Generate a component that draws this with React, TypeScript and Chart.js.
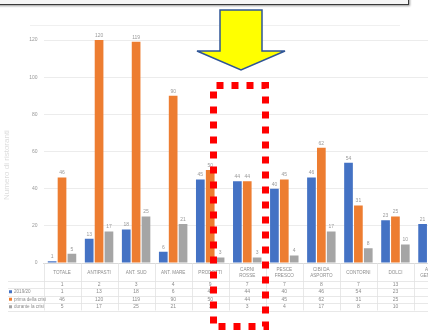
import React, { useEffect, useRef } from "react";
import { Chart, registerables } from "chart.js";

Chart.register(...registerables);

const categories: string[][] = [
  ["TOTALE"],
  ["ANTIPASTI"],
  ["ANT. SUD"],
  ["ANT. MARE"],
  ["PRODOTTI"],
  ["CARNI", "ROSSE"],
  ["PESCE", "FRESCO"],
  ["CIBI DA", "ASPORTO"],
  ["CONTORNI"],
  ["DOLCI"],
  ["ALTRO", "GENERICO"],
];
const seriesNames = ["2019/20", "prima della crisi", "durante la crisi"];
const countRow = [1, 2, 3, 4, 9, 7, 7, 8, 7, 13, 5];
const blueValues = [1, 13, 18, 6, 45, 44, 40, 46, 54, 23, 21];
const orangeValues = [46, 120, 119, 90, 50, 44, 45, 62, 31, 25, 45];
const greyValues = [5, 17, 25, 21, 3, 3, 4, 17, 8, 10, 6];
const yMax = 120;
const yStep = 20;
const colors = ["#4472C4", "#ED7D31", "#A5A5A5"];
const yTitle = "Numero di ristoranti";

const FONT = "'Liberation Sans', Arial, sans-serif";

const labelsPlugin = {
  id: "barLabels",
  afterDatasetsDraw(chart: any) {
    const ctx = chart.ctx;
    ctx.save();
    ctx.font = `5px ${FONT}`;
    ctx.fillStyle = "#9a9a9a";
    ctx.textAlign = "center";
    ctx.textBaseline = "bottom";
    chart.data.datasets.forEach((ds: any, di: number) => {
      const meta = chart.getDatasetMeta(di);
      meta.data.forEach((bar: any, i: number) => {
        ctx.fillText(String(ds.data[i]), bar.x, bar.y - 2);
      });
    });
    ctx.restore();
  },
};

const tablePlugin = {
  id: "dataTable",
  afterDraw(chart: any) {
    const ctx = chart.ctx;
    const xs = chart.scales.x;
    const ca = chart.chartArea;
    const n = categories.length;
    const half = (xs.getPixelForValue(1) - xs.getPixelForValue(0)) / 2;
    const top = ca.bottom;
    const headerBottom = top + 17.5;
    const rowH = 7.5;
    const rows = [countRow, blueValues, orangeValues, greyValues];
    const bottom = headerBottom + rowH * rows.length;
    ctx.save();
    ctx.strokeStyle = "#e2e2e2";
    ctx.lineWidth = 0.8;
    for (let i = 0; i <= n; i++) {
      const x = Math.round(xs.getPixelForValue(i) - half) + 0.5;
      ctx.beginPath();
      ctx.moveTo(x, top);
      ctx.lineTo(x, bottom);
      ctx.stroke();
    }
    for (let r = 0; r <= rows.length; r++) {
      const y = Math.round(headerBottom + r * rowH) + 0.5;
      ctx.beginPath();
      ctx.moveTo(8, y);
      ctx.lineTo(chart.width, y);
      ctx.stroke();
    }
    ctx.textAlign = "center";
    ctx.textBaseline = "middle";
    ctx.fillStyle = "#8c8c8c";
    ctx.font = `4.6px ${FONT}`;
    categories.forEach((lines, i) => {
      const cx = xs.getPixelForValue(i);
      const cy = (top + headerBottom) / 2 + 1;
      lines.forEach((t, k) => {
        const off = (k - (lines.length - 1) / 2) * 5.5;
        ctx.fillText(t, cx, cy + off);
      });
    });
    ctx.font = `5px ${FONT}`;
    rows.forEach((row, r) => {
      const cy = headerBottom + r * rowH + rowH / 2;
      row.forEach((v, i) => {
        ctx.fillText(String(v), xs.getPixelForValue(i), cy);
      });
    });
    ctx.textAlign = "left";
    ctx.font = `4.6px ${FONT}`;
    seriesNames.forEach((name, s) => {
      const cy = headerBottom + (s + 1) * rowH + rowH / 2;
      ctx.fillStyle = colors[s];
      ctx.fillRect(9, cy - 1.5, 3, 3);
      ctx.fillStyle = "#8c8c8c";
      ctx.fillText(name, 14, cy);
    });
    ctx.restore();
  },
};

export default function App() {
  const ref = useRef<HTMLCanvasElement>(null);
  useEffect(() => {
    if (!ref.current) return;
    const chart = new Chart(ref.current, {
      type: "bar",
      data: {
        labels: categories.map((c) => c.join(" ")),
        datasets: seriesNames.map((name, s) => ({
          label: name,
          data: [blueValues, orangeValues, greyValues][s],
          backgroundColor: colors[s],
          categoryPercentage: 0.8,
          barPercentage: 0.88,
        })),
      },
      options: {
        responsive: false,
        animation: false,
        devicePixelRatio: 1,
        layout: { padding: { top: 40, left: 0, right: 0, bottom: 0 } },
        plugins: { legend: { display: false }, tooltip: { enabled: false } },
        scales: {
          x: {
            grid: { display: false },
            border: { display: true, color: "#d9d9d9" },
            ticks: { display: false },
            afterFit: (s: any) => {
              s.height = 67;
            },
          },
          y: {
            min: 0,
            max: yMax,
            ticks: {
              stepSize: yStep,
              font: { size: 5, family: FONT },
              color: "#999",
              padding: 6,
            },
            grid: { color: "#ececec", drawTicks: false },
            border: { display: false },
            afterFit: (s: any) => {
              s.width = 43.5;
            },
          },
        },
      },
      plugins: [labelsPlugin, tablePlugin],
    } as any);
    return () => chart.destroy();
  }, []);

  return (
    <div
      style={{
        position: "fixed",
        left: 0,
        top: 0,
        width: 428,
        height: 330,
        overflow: "hidden",
        background: "#fff",
        fontFamily: FONT,
      }}
    >
      <canvas
        ref={ref}
        width={451}
        height={330}
        style={{ position: "absolute", left: 0, top: 0, width: 451, height: 330, filter: "blur(0.4px)" }}
      />
      <div
        style={{
          position: "absolute",
          left: -4,
          top: -30,
          width: 411,
          height: 33,
          border: "1.5px solid #3a3a3a",
          background: "#f6f6f6",
          boxShadow: "1px 1px 2px #999",
        }}
      />
      <div
        style={{
          position: "absolute",
          left: 6,
          top: 165,
          transform: "translate(-50%, -50%) rotate(-90deg)",
          fontSize: 8,
          color: "#dcdcdc",
          whiteSpace: "nowrap",
        }}
      >
        {yTitle}
      </div>
      <svg
        width={428}
        height={330}
        style={{ position: "absolute", left: 0, top: 0 }}
      >
        <line x1={30} y1={25.5} x2={400} y2={25.5} stroke="#f0f0f0" strokeWidth={1} />
        <polygon
          points="220,10 262,10 262,51 285,51 241,70 197,51 220,51"
          fill="#FFFF00"
          stroke="#2F5597"
          strokeWidth={1.5}
        />
        <rect
          x={213.5}
          y={85.5}
          width={52}
          height={241}
          fill="none"
          stroke="#FF0000"
          strokeWidth={7}
          strokeDasharray="7 8"
          strokeDashoffset={-3}
        />
      </svg>
    </div>
  );
}
